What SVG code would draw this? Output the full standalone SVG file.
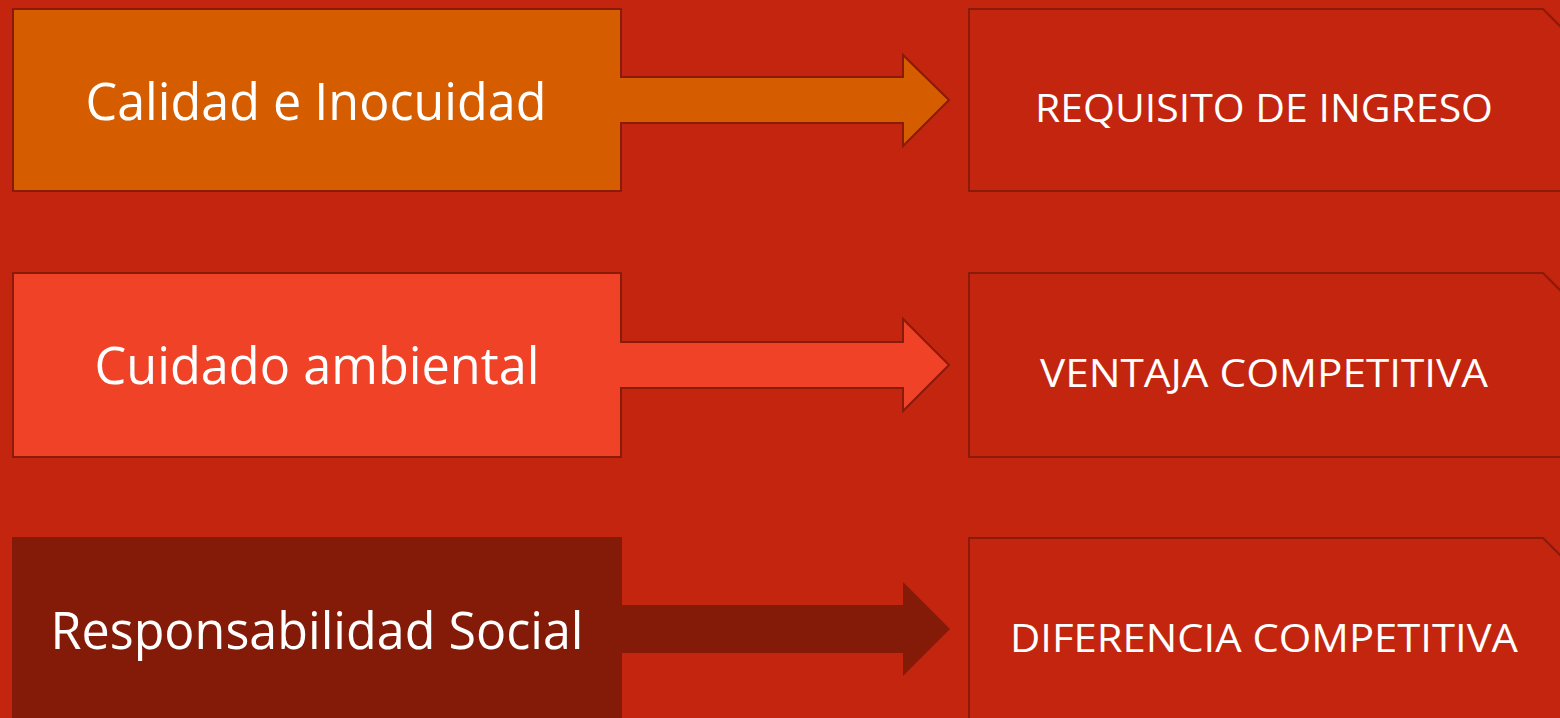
<svg xmlns="http://www.w3.org/2000/svg" width="1560" height="718" viewBox="0 0 1560 718">
<style>
.bg{fill:#C3250F}
.out{stroke:#8A1A0A;stroke-width:2;stroke-linejoin:miter}
.tgt{fill:#C3250F}
.lt{font-family:"Open Sans","Liberation Sans",sans-serif;font-size:51px;fill:#FFFFFF;text-anchor:middle}
.rt{font-family:"Open Sans","Liberation Sans",sans-serif;font-size:38px;fill:#FFFFFF;text-anchor:middle}
</style>
<rect class="bg" x="0" y="0" width="1560" height="718"/>
<g id="connectors"/>
<g id="node-calidad">
<path class="out" fill="#D55D00" d="M13,9 H621 V77 H903 V55 L949,100 L903,146 V123 H621 V191 H13 Z"/>
<text class="lt" x="316" y="120" textLength="461" lengthAdjust="spacingAndGlyphs">Calidad e Inocuidad</text>
</g>
<g id="node-requisito">
<path class="out tgt" d="M969,9 H1543 L1590,56 V191 H969 Z"/>
<text class="rt" x="1264" y="122" textLength="458" lengthAdjust="spacingAndGlyphs">REQUISITO DE INGRESO</text>
</g>
<g id="node-cuidado">
<path class="out" fill="#F04227" d="M13,273 H621 V342 H903 V319 L949,365 L903,411 V388 H621 V457 H13 Z"/>
<text class="lt" x="317" y="384" textLength="445" lengthAdjust="spacingAndGlyphs">Cuidado ambiental</text>
</g>
<g id="node-ventaja">
<path class="out tgt" d="M969,273 H1543 L1590,320 V457 H969 Z"/>
<text class="rt" x="1264" y="387" textLength="448" lengthAdjust="spacingAndGlyphs">VENTAJA COMPETITIVA</text>
</g>
<g id="node-responsabilidad">
<path fill="#841A08" d="M12,537 H622 V605 H903 V582 L950,629 L903,676 V653 H622 V730 H12 Z"/>
<text class="lt" x="317" y="649" textLength="533" lengthAdjust="spacingAndGlyphs">Responsabilidad Social</text>
</g>
<g id="node-diferencia">
<path class="out tgt" d="M969,538 H1543 L1590,585 V730 H969 Z"/>
<text class="rt" x="1264" y="652" textLength="508" lengthAdjust="spacingAndGlyphs">DIFERENCIA COMPETITIVA</text>
</g>
</svg>
